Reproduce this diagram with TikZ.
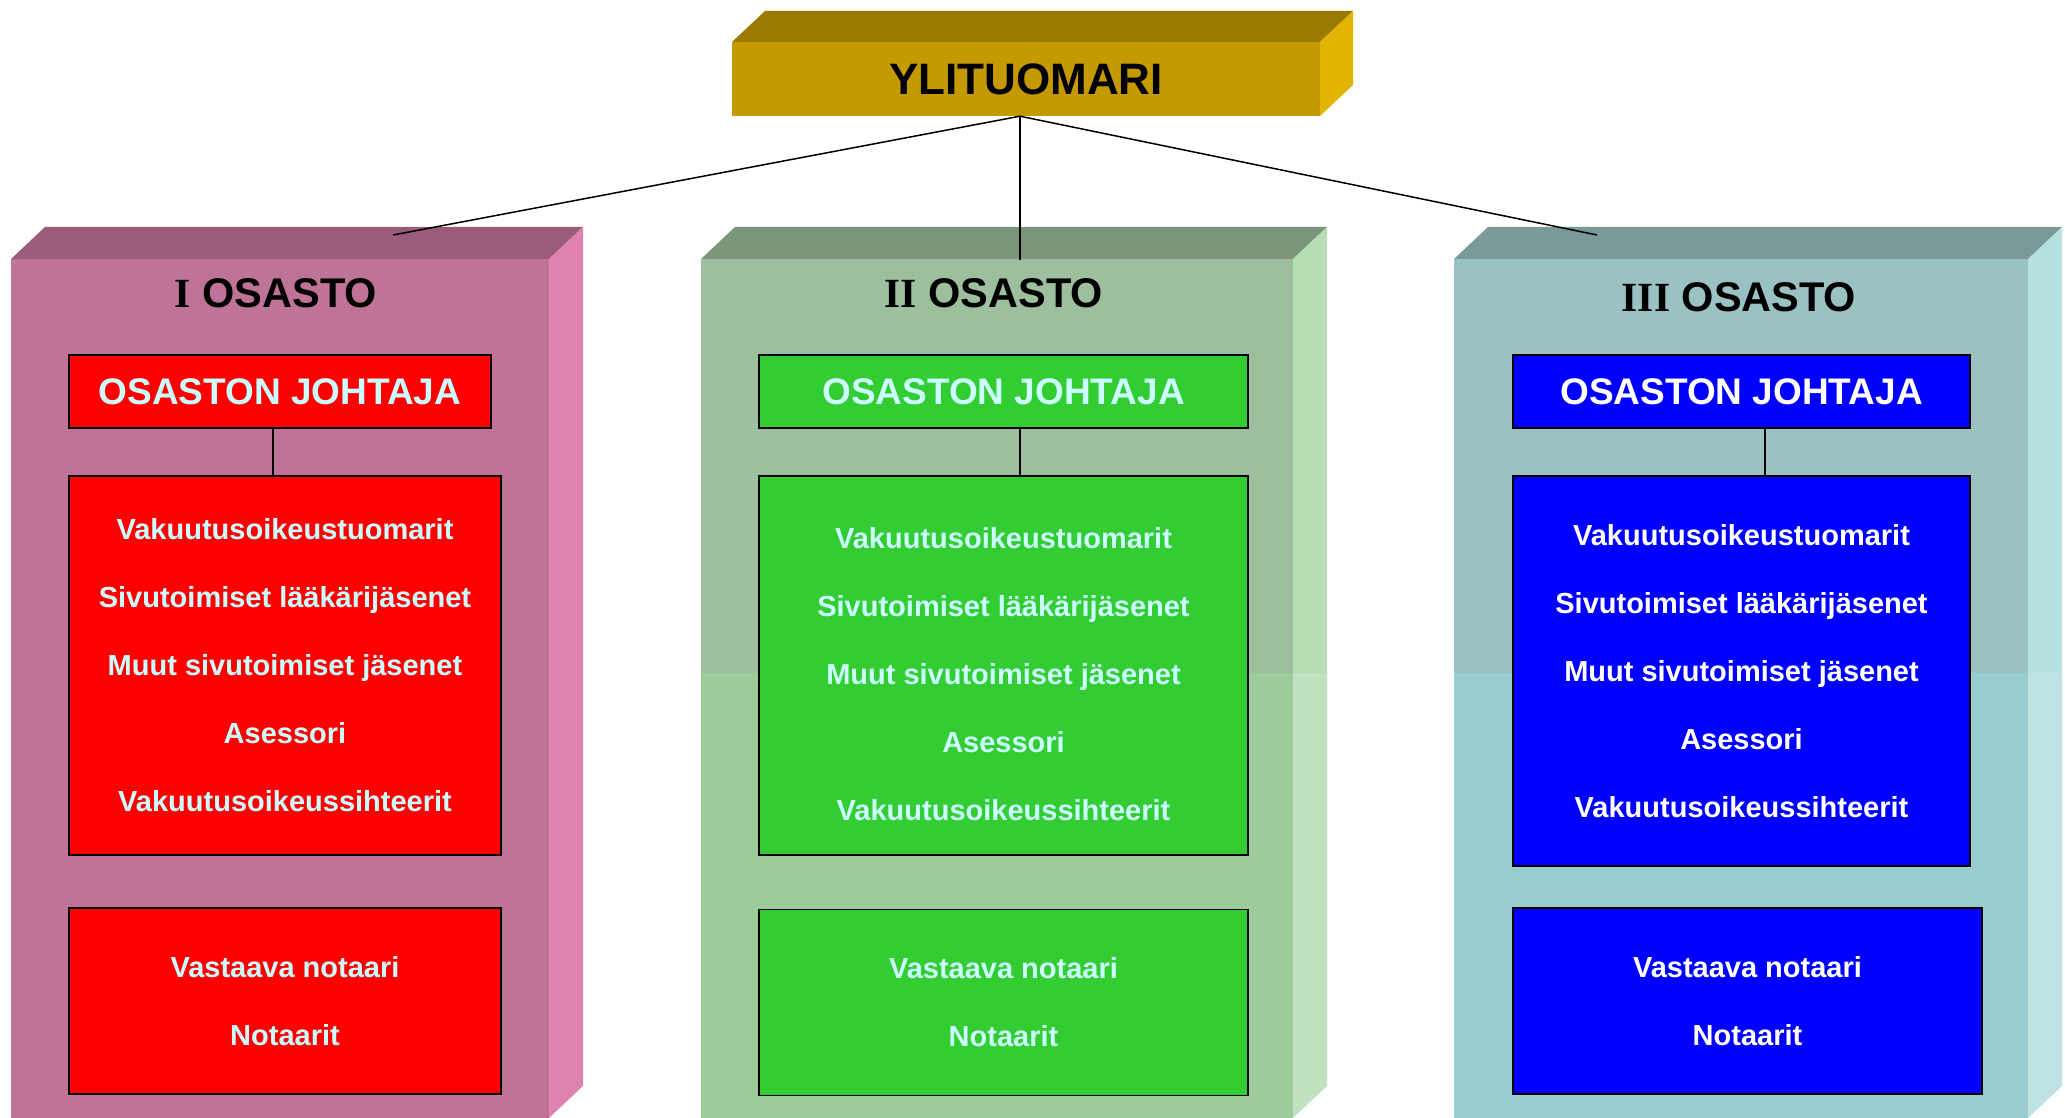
\documentclass[tikz,border=0pt]{standalone}
\usepackage{fontspec}
\setmainfont{Liberation Sans}
\newfontfamily\romanfont{Liberation Serif}
\definecolor{goldF}{HTML}{C49A00}
\definecolor{goldT}{HTML}{9A7A00}
\definecolor{goldS}{HTML}{E0B400}
\definecolor{pinkF}{HTML}{BF7396}
\definecolor{pinkT}{HTML}{995C7A}
\definecolor{pinkS}{HTML}{DE82B0}
\definecolor{grnF}{HTML}{9DBF9D}
\definecolor{grnL}{HTML}{9CCC9C}
\definecolor{grnT}{HTML}{7C967C}
\definecolor{grnS}{HTML}{B5DEB5}
\definecolor{grnSL}{HTML}{C0E2C0}
\definecolor{tealF}{HTML}{9BC2C2}
\definecolor{tealL}{HTML}{99CCCC}
\definecolor{tealT}{HTML}{7A9999}
\definecolor{tealS}{HTML}{B5E0E0}
\definecolor{tealSL}{HTML}{BEE2E2}
\definecolor{redbox}{HTML}{FF0000}
\definecolor{grnbox}{HTML}{33CC33}
\definecolor{bluebox}{HTML}{0000FF}
\definecolor{lcyan}{HTML}{CCFFFF}
\tikzset{
  unitbox/.style={draw=black, line width=1.5pt, inner sep=0pt, align=center, font=\bfseries\fontsize{29}{68}\selectfont},
  unittext/.style={inner sep=0pt, align=center, font=\bfseries\fontsize{29}{68}\selectfont},
  headbox/.style={draw=black, line width=1.5pt, inner sep=0pt, font=\bfseries\fontsize{37}{40}\selectfont},
  coltitle/.style={font=\bfseries\fontsize{41.5}{44}\selectfont, text=black},
  link/.style={draw=black, line width=1.5pt}
}
\begin{document}
\begin{tikzpicture}[x=1pt,y=-1pt]
\useasboundingbox (0,0) rectangle (2065,1118);
% ---------- column I ----------
\fill[pinkF] (11,259) rectangle (549,1118);
\fill[pinkT] (11,259) -- (45,227) -- (583,227) -- (549,259) -- cycle;
\fill[pinkS] (549,259) -- (583,227) -- (583,1086) -- (549,1118) -- cycle;
% ---------- column II ----------
\fill[grnF] (701,259) rectangle (1293,673);
\fill[grnL] (701,673) rectangle (1293,1118);
\fill[grnT] (701,259) -- (735,227) -- (1327,227) -- (1293,259) -- cycle;
\fill[grnS] (1293,259) -- (1327,227) -- (1327,673) -- (1293,673) -- cycle;
\fill[grnSL] (1293,673) -- (1327,673) -- (1327,1086) -- (1293,1118) -- cycle;
% ---------- column III ----------
\fill[tealF] (1454,259) rectangle (2028,673);
\fill[tealL] (1454,673) rectangle (2028,1118);
\fill[tealT] (1454,259) -- (1488,227) -- (2062,227) -- (2028,259) -- cycle;
\fill[tealS] (2028,259) -- (2062,227) -- (2062,673) -- (2028,673) -- cycle;
\fill[tealSL] (2028,673) -- (2062,673) -- (2062,1086) -- (2028,1118) -- cycle;
% ---------- top box ----------
\fill[goldT] (732,42) -- (765,11) -- (1353,11) -- (1320,42) -- cycle;
\fill[goldS] (1320,42) -- (1353,11) -- (1353,85) -- (1320,116) -- cycle;
\node[fill=goldF, minimum width=588pt, minimum height=74pt, inner sep=0pt,
      font=\bfseries\fontsize{44}{48}\selectfont] (top) at (1026,79) {YLITUOMARI};
\coordinate (c1) at (393,235);
\coordinate (c2) at (1020,260);
\coordinate (c3) at (1597,235);
\draw[link] (top.south -| c2) -- (c1);
\draw[link] (top.south -| c2) -- (c2);
\draw[link] (top.south -| c2) -- (c3);
% titles
\node[coltitle] (t1) at (276,293) {{\romanfont I} OSASTO};
\node[coltitle] (t2) at (994,293) {{\romanfont II} OSASTO};
\node[coltitle] (t3) at (1739,297) {{\romanfont III} OSASTO};
% ---------- column I boxes ----------
\node[headbox, fill=redbox, text=lcyan, minimum width=422pt, minimum height=73pt] (h1) at (280,391.5) {OSASTON JOHTAJA};
\node[unitbox, fill=redbox, text=lcyan, minimum width=432pt, minimum height=379pt] (m1) at (285,665.5)
  {Vakuutusoikeustuomarit\\Sivutoimiset lääkärijäsenet\\Muut sivutoimiset jäsenet\\Asessori\\Vakuutusoikeussihteerit};
\node[unitbox, fill=redbox, text=lcyan, minimum width=432pt, minimum height=186pt] (b1) at (285,1001)
  {Vastaava notaari\\Notaarit};
\draw[link] (h1.south -| 273,0) -- (m1.north -| 273,0);
% ---------- column II boxes ----------
\node[headbox, fill=grnbox, text=lcyan, minimum width=489pt, minimum height=73pt] (h2) at (1003.5,391.5) {OSASTON JOHTAJA};
\node[draw=black, line width=1.5pt, fill=grnbox, minimum width=489pt, minimum height=379pt, inner sep=0pt] (m2) at (1003.5,665.5) {};
\node[unittext, text=lcyan] (m2t) at (1003.5,674)
  {Vakuutusoikeustuomarit\\Sivutoimiset lääkärijäsenet\\Muut sivutoimiset jäsenet\\Asessori\\Vakuutusoikeussihteerit};
\node[unitbox, fill=grnbox, text=lcyan, minimum width=489pt, minimum height=186pt] (b2) at (1003.5,1002.5)
  {Vastaava notaari\\Notaarit};
\draw[link] (h2.south -| 1020,0) -- (m2.north -| 1020,0);
% ---------- column III boxes ----------
\node[headbox, fill=bluebox, text=white, minimum width=457pt, minimum height=73pt] (h3) at (1741.5,391.5) {OSASTON JOHTAJA};
\node[unitbox, fill=bluebox, text=white, minimum width=457pt, minimum height=390pt] (m3) at (1741.5,671)
  {Vakuutusoikeustuomarit\\Sivutoimiset lääkärijäsenet\\Muut sivutoimiset jäsenet\\Asessori\\Vakuutusoikeussihteerit};
\node[unitbox, fill=bluebox, text=white, minimum width=469pt, minimum height=186pt] (b3) at (1747.5,1001)
  {Vastaava notaari\\Notaarit};
\draw[link] (h3.south -| 1765,0) -- (m3.north -| 1765,0);
\end{tikzpicture}
\end{document}
